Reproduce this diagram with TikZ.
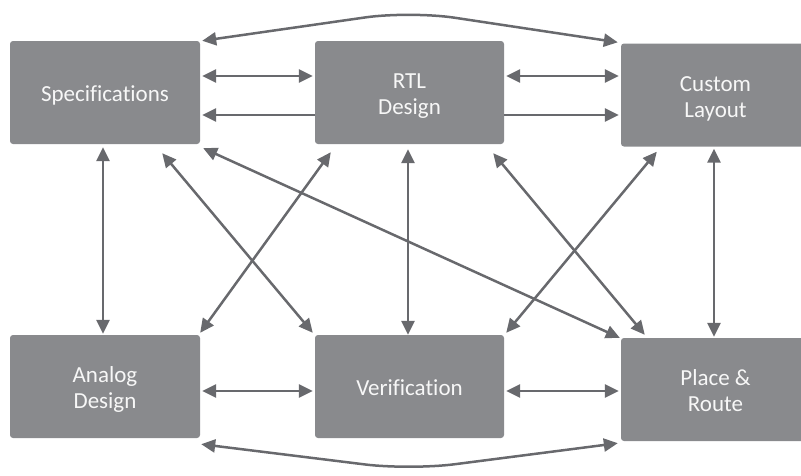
\documentclass[tikz,border=0pt]{standalone}
\usepackage{fontspec}
\setmainfont[Ligatures=NoCommon]{Carlito}
\usetikzlibrary{arrows.meta}
\definecolor{boxgray}{HTML}{898A8D}
\definecolor{arrgray}{HTML}{68696D}
\definecolor{txtwhite}{HTML}{F7F7F7}
\newcommand{\blklabel}[1]{\raisebox{-4pt}[\height][\depth]{\begin{tabular}{@{}c@{}}#1\end{tabular}}}
\begin{document}
\begin{tikzpicture}[x=1pt,y=-1pt,
  blk/.style={fill=boxgray, draw=none, rounded corners=3pt, minimum width=189pt, minimum height=103pt,
    inner sep=0pt, text=txtwhite, font=\fontsize{23}{26}\selectfont},
  conn/.style={draw=arrgray, line width=2.5pt, -{Triangle[length=14pt,width=13pt]}},
  bconn/.style={draw=arrgray, line width=2.5pt, {Triangle[length=14pt,width=13pt]}-{Triangle[length=14pt,width=13pt]}}
]
\useasboundingbox (0,0) rectangle (801,475);
\begin{scope}
\clip (0,0) rectangle (801,475);
\node[blk, minimum width=190pt] (spec) at (105,92.5) {\blklabel{Specifications}};
\node[blk] (rtl) at (409.5,92.5) {\blklabel{RTL\\Design}};
\node[blk] (cust) at (715.5,95) {\blklabel{Custom\\Layout}};
\node[blk, minimum width=190pt] (ana) at (105,386.5) {\blklabel{Analog\\Design}};
\node[blk] (ver) at (409.5,386.5) {\blklabel{Verification}};
\node[blk] (pr) at (715.5,389.5) {\blklabel{Place \&\\Route}};
\end{scope}
% arcs over the top and under the bottom
\coordinate (topapex) at (410,11);
\coordinate (botapex) at (410,470);
\draw[bconn, rounded corners=45pt] ([shift={(2,0)}]spec.north east) -- (topapex) -- ([shift={(-3,-1)}]cust.north west);
\draw[bconn, rounded corners=45pt] ([shift={(1,6)}]ana.south east) -- (botapex) -- ([shift={(-3,2)}]pr.south west);
% horizontal connectors
\draw[bconn] ([shift={(2,-16.5)}]spec.east) -- ([shift={(-2,-16.5)}]rtl.west);
\draw[conn] ([shift={(0,22.5)}]rtl.west) -- ([shift={(2,22.5)}]spec.east);
\draw[bconn] ([shift={(2,-16.5)}]rtl.east) -- ([shift={(-2,-19)}]cust.west);
\draw[conn] ([shift={(0,22.5)}]rtl.east) -- ([shift={(-2,20)}]cust.west);
\draw[bconn] ([shift={(2,4.5)}]ana.east) -- ([shift={(-2,4.5)}]ver.west);
\draw[bconn] ([shift={(2,4.5)}]ver.east) -- ([shift={(-2,1.5)}]pr.west);
% vertical connectors
\draw[bconn] ([shift={(-2,3)}]spec.south) -- ([shift={(-2,-1)}]ana.north);
\draw[bconn] ([shift={(-1.5,5)}]rtl.south) -- ([shift={(-1.5,0)}]ver.north);
\draw[bconn] ([shift={(-1.5,2)}]cust.south) -- ([shift={(-1.5,-1)}]pr.north);
% diagonal connectors
\draw[bconn] ([shift={(-38,9)}]spec.south east) -- ([shift={(-2,-2)}]ver.north west);
\draw[bconn] ([shift={(16,8)}]rtl.south west) -- ([shift={(0,-2)}]ana.north east);
\draw[bconn] ([shift={(3,4)}]spec.south east) -- ([shift={(-1,0)}]pr.north west);
\draw[bconn] ([shift={(-11,9)}]rtl.south east) -- ([shift={(24,-3)}]pr.north west);
\draw[bconn] ([shift={(36,5)}]cust.south west) -- ([shift={(2,-2)}]ver.north east);
\end{tikzpicture}
\end{document}
